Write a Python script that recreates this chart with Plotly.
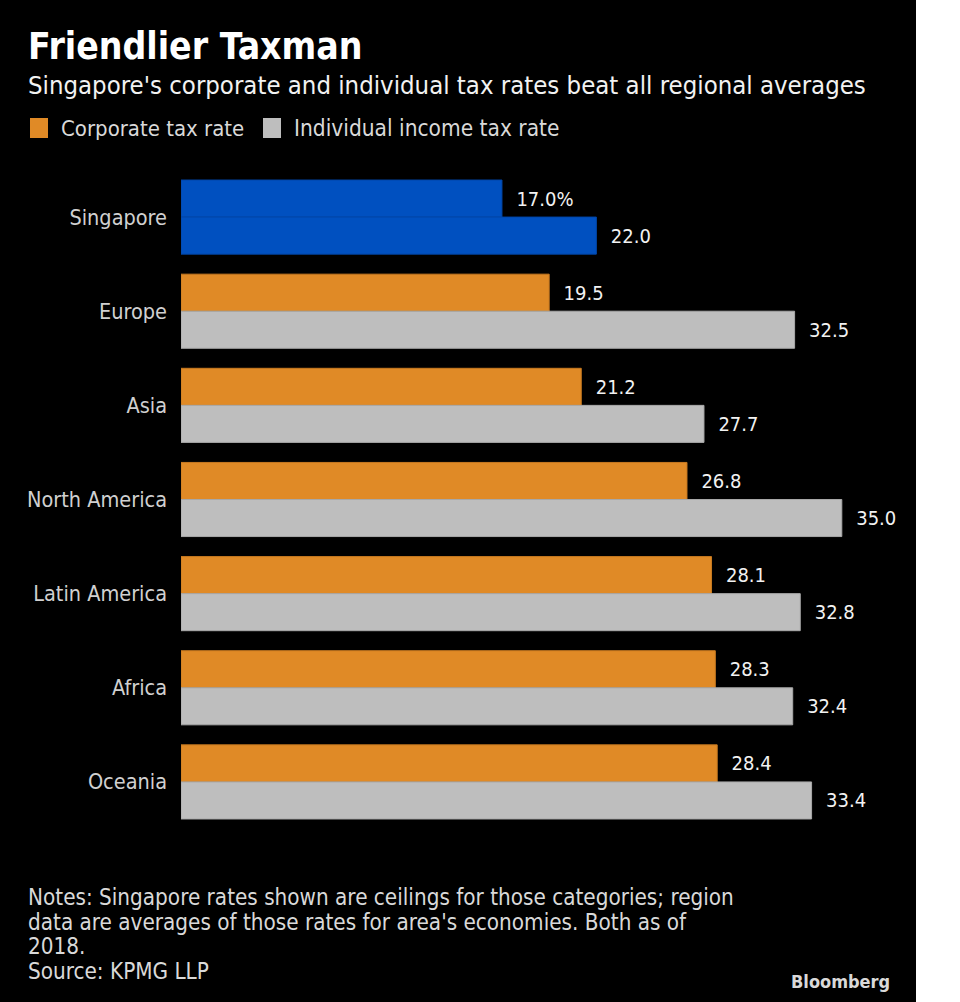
import plotly.graph_objects as go

regions = ["Singapore", "Europe", "Asia", "North America", "Latin America", "Africa", "Oceania"]
corporate = [17.0, 19.5, 21.2, 26.8, 28.1, 28.3, 28.4]
individual = [22.0, 32.5, 27.7, 35.0, 32.8, 32.4, 33.4]

title = "Friendlier Taxman"
subtitle = "Singapore's corporate and individual tax rates beat all regional averages"
legend_names = ["Corporate tax rate", "Individual income tax rate"]
notes = ["Notes: Singapore rates shown are ceilings for those categories; region",
         "data are averages of those rates for area's economies. Both as of",
         "2018.",
         "Source: KPMG LLP"]

BLUE = "#0050C0"
ORANGE = "#E08A26"
GRAY = "#BEBEBE"
FONT = "DejaVu Sans Condensed, sans-serif"

W, H = 960, 1002
L, R, T, B = 181, 61, 170, 173
PW, PH = W - L - R, H - T - B


def px(x):
    return (x - L) / PW


def py(y):
    return (H - B - y) / PH


corp_colors = [BLUE] + [ORANGE] * (len(regions) - 1)
ind_colors = [BLUE] + [GRAY] * (len(regions) - 1)
corp_lines = ["#0046A8"] + ["#C87A20"] * (len(regions) - 1)
ind_lines = ["#0046A8"] + ["#A8A8A8"] * (len(regions) - 1)

corp_text = [f"{v:.1f}%" if i == 0 else f"{v:.1f}" for i, v in enumerate(corporate)]
ind_text = [f"{v:.1f}" for v in individual]

fig = go.Figure()
fig.add_trace(go.Bar(
    y=regions, x=corporate, orientation="h", name=legend_names[0],
    marker=dict(color=corp_colors, line=dict(color=corp_lines, width=1)),
    text=corp_text, texttemplate="  %{text}", textposition="outside",
    textfont=dict(color="#F2F2F2", size=20, family=FONT), cliponaxis=False,
    showlegend=False, hoverinfo="x+y",
))
fig.add_trace(go.Bar(
    y=regions, x=individual, orientation="h", name=legend_names[1],
    marker=dict(color=ind_colors, line=dict(color=ind_lines, width=1)),
    text=ind_text, texttemplate="  %{text}", textposition="outside",
    textfont=dict(color="#F2F2F2", size=20, family=FONT), cliponaxis=False,
    showlegend=False, hoverinfo="x+y",
))

annotations = [
    dict(text=f"<b>{title}</b>", x=px(26), y=py(47), xanchor="left", yanchor="middle",
         font=dict(size=37, color="white", family=FONT)),
    dict(text=subtitle, x=px(26), y=py(85), xanchor="left", yanchor="middle",
         font=dict(size=25.5, color="#F2F2F2", family=FONT)),
    dict(text=legend_names[0], x=px(59), y=py(128), xanchor="left", yanchor="middle",
         font=dict(size=22, color="#D9D9D9", family=FONT)),
    dict(text=legend_names[1], x=px(292), y=py(128), xanchor="left", yanchor="middle",
         font=dict(size=22.5, color="#D9D9D9", family=FONT)),
    dict(text="<b>Bloomberg</b>", x=px(892), y=py(981), xanchor="right", yanchor="middle",
         font=dict(size=18, color="#D9D9D9", family=FONT)),
]
for i, line in enumerate(notes):
    annotations.append(dict(text=line, x=px(26), y=py(897 + 24.7 * i), xanchor="left",
                            yanchor="middle", font=dict(size=22.3, color="#D9D9D9", family=FONT)))
for a in annotations:
    a.update(xref="paper", yref="paper", showarrow=False)

shapes = [
    dict(type="rect", xref="paper", yref="paper", x0=px(916), x1=px(W + 5), y0=py(H + 5), y1=py(-5),
         fillcolor="white", line=dict(width=0), layer="above"),
    dict(type="rect", xref="paper", yref="paper", x0=px(30), x1=px(48), y0=py(138), y1=py(118),
         fillcolor=ORANGE, line=dict(width=0)),
    dict(type="rect", xref="paper", yref="paper", x0=px(263), x1=px(281), y0=py(138), y1=py(118),
         fillcolor=GRAY, line=dict(width=0)),
]

fig.update_layout(
    width=W, height=H, margin=dict(l=L, r=R, t=T, b=B, pad=0),
    paper_bgcolor="black", plot_bgcolor="black",
    barmode="group", bargap=20 / 94, bargroupgap=0,
    xaxis=dict(range=[0, PW / 18.88], visible=False, fixedrange=True),
    yaxis=dict(autorange="reversed", showgrid=False, zeroline=False, showline=False,
               ticks="", ticklabelstandoff=13, fixedrange=True,
               tickfont=dict(size=21.5, color="#D0D0D0", family=FONT)),
    annotations=annotations, shapes=shapes,
)

fig.write_html("out.html", config={"displayModeBar": False},
               post_script="document.body.style.margin='0px';")
